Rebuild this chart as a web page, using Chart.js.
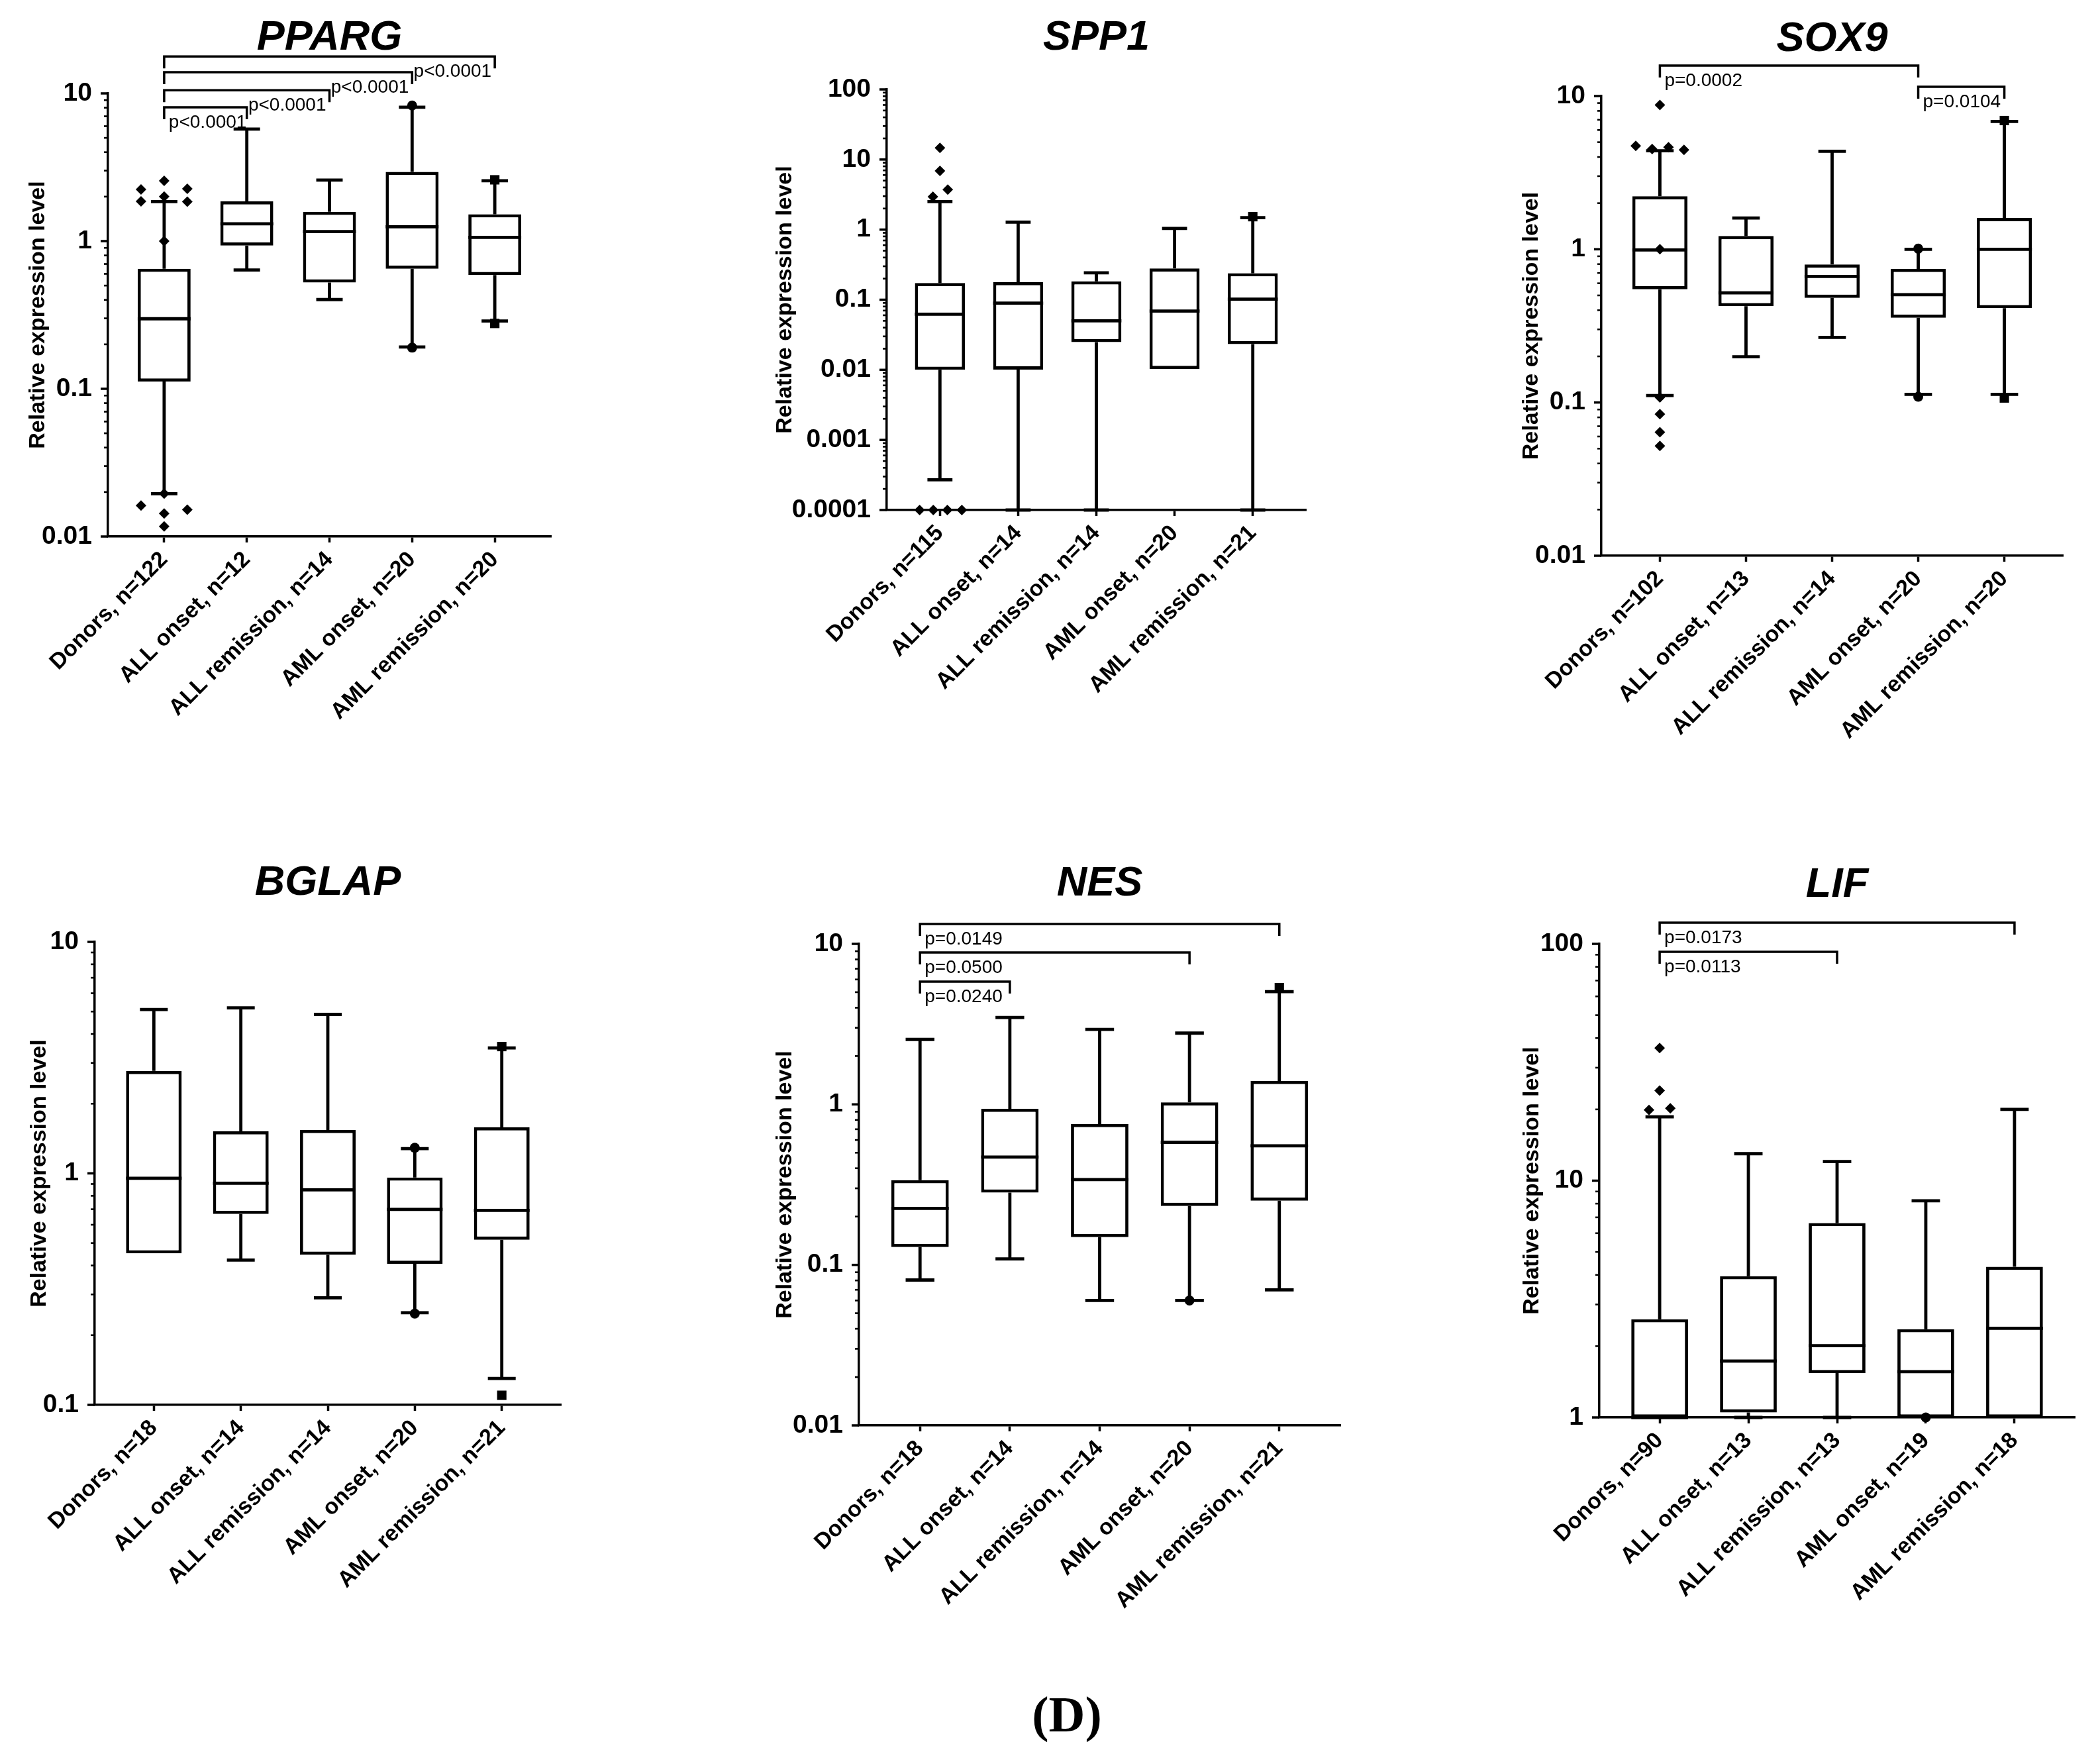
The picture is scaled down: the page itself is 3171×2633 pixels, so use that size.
<!DOCTYPE html>
<html>
<head>
<meta charset="utf-8">
<title>Relative expression level by group</title>
<script src="https://cdn.jsdelivr.net/npm/chart.js@4.4.1/dist/chart.umd.min.js"></script>
<style>
  html, body { margin: 0; padding: 0; background: #fff; }
  body { width: 3171px; height: 2633px; position: relative; overflow: hidden; }
  canvas { position: absolute; }
  #caption {
    position: absolute; left: 1411px; top: 2548px; width: 400px;
    text-align: center; font: bold 76px "Liberation Serif", "Times New Roman", serif;
    line-height: 80px; color: #000;
  }
</style>
</head>
<body>
<div id="caption">(D)</div>
<script>
const FONT = '"Liberation Sans", Arial, sans-serif';

// ---- PPARG ----
const ppargGroups = ["Donors, n=122", "ALL onset, n=12", "ALL remission, n=14", "AML onset, n=20", "AML remission, n=20"];
// [min, q1, median, q3, max]
const ppargBoxes = [
  [0.0195, 0.112, 0.298, 0.65, 1.85],
  [0.637, 0.933, 1.31, 1.86, 5.73],
  [0.402, 0.524, 1.16, 1.58, 2.59],
  [0.192, 0.65, 1.25, 2.94, 8.06],
  [0.288, 0.589, 1.06, 1.52, 2.56]
];
// [group, value]
const ppargOutliers = [
  [0, 2.24], [0, 1.86], [0, 2.56], [0, 2.0], [0, 2.26], [0, 1.85], [0, 1.0],
  [0, 0.0195], [0, 0.0162], [0, 0.0143], [0, 0.0117], [0, 0.0152],
  [3, 8.28], [3, 0.19], [4, 2.6], [4, 0.277]
];
const ppargJitter = [-0.28, -0.28, 0, 0, 0.28, 0.28, 0, 0, -0.28, 0, 0, 0.28, 0, 0, 0, 0];
const ppargTicks = ["0.01", "0.1", "1", "10"];
const ppargPairs = [[0, 1, "p<0.0001"], [0, 2, "p<0.0001"], [0, 3, "p<0.0001"], [0, 4, "p<0.0001"]];
const ppargPairLevels = [8.05, 10.5, 13.9, 17.8];

// ---- SPP1 ----
const spp1Groups = ["Donors, n=115", "ALL onset, n=14", "ALL remission, n=14", "AML onset, n=20", "AML remission, n=21"];
const spp1Boxes = [
  [0.00027, 0.0100, 0.0622, 0.173, 2.51],
  [0.0001, 0.0101, 0.0896, 0.178, 1.28],
  [0.0001, 0.0248, 0.0499, 0.183, 0.242],
  [0.0103, 0.0103, 0.0689, 0.28, 1.04],
  [0.0001, 0.0233, 0.102, 0.239, 1.48]
];
const spp1Outliers = [
  [0, 14.7], [0, 6.9], [0, 3.73], [0, 2.95],
  [0, 0.0001], [0, 0.0001], [0, 0.0001], [0, 0.0001],
  [4, 1.53]
];
const spp1Jitter = [0, 0, 0.1, -0.09, -0.26, -0.085, 0.095, 0.28, 0];
const spp1Ticks = ["0.0001", "0.001", "0.01", "0.1", "1", "10", "100"];
const spp1Pairs = [];
const spp1PairLevels = [];

// ---- SOX9 ----
const sox9Groups = ["Donors, n=102", "ALL onset, n=13", "ALL remission, n=14", "AML onset, n=20", "AML remission, n=20"];
const sox9Boxes = [
  [0.111, 0.548, 0.99, 2.22, 4.39],
  [0.199, 0.425, 0.519, 1.22, 1.6],
  [0.266, 0.482, 0.665, 0.796, 4.36],
  [0.113, 0.357, 0.505, 0.745, 1.0],
  [0.113, 0.413, 1.0, 1.6, 6.83]
];
const sox9Outliers = [
  [0, 8.75], [0, 4.73], [0, 4.51], [0, 4.63], [0, 4.45], [0, 1.0],
  [0, 0.108], [0, 0.084], [0, 0.064], [0, 0.052],
  [3, 1.01], [3, 0.109], [4, 6.92], [4, 0.107]
];
const sox9Jitter = [0, -0.28, -0.09, 0.1, 0.28, 0, 0, 0, 0, 0, 0, 0, 0, 0];
const sox9Ticks = ["0.01", "0.1", "1", "10"];
const sox9Pairs = [[0, 3, "p=0.0002"], [3, 4, "p=0.0104"]];
const sox9PairLevels = [15.8, 11.5];

// ---- BGLAP ----
const bglapGroups = ["Donors, n=18", "ALL onset, n=14", "ALL remission, n=14", "AML onset, n=20", "AML remission, n=21"];
const bglapBoxes = [
  [0.451, 0.451, 0.953, 2.77, 5.10],
  [0.422, 0.668, 0.907, 1.52, 5.19],
  [0.29, 0.445, 0.849, 1.54, 4.86],
  [0.25, 0.407, 0.699, 0.96, 1.28],
  [0.13, 0.517, 0.692, 1.58, 3.48]
];
const bglapOutliers = [[3, 1.29], [3, 0.248], [4, 3.53], [4, 0.110]];
const bglapJitter = [0, 0, 0, 0];
const bglapTicks = ["0.1", "1", "10"];
const bglapPairs = [];
const bglapPairLevels = [];

// ---- NES ----
const nesGroups = ["Donors, n=18", "ALL onset, n=14", "ALL remission, n=14", "AML onset, n=20", "AML remission, n=21"];
const nesBoxes = [
  [0.0805, 0.129, 0.225, 0.337, 2.54],
  [0.109, 0.282, 0.47, 0.938, 3.48],
  [0.06, 0.149, 0.34, 0.755, 2.93],
  [0.06, 0.233, 0.58, 1.03, 2.78],
  [0.0699, 0.251, 0.552, 1.40, 5.04]
];
const nesOutliers = [[3, 0.06], [4, 5.34]];
const nesJitter = [0, 0];
const nesTicks = ["0.01", "0.1", "1", "10"];
const nesPairs = [[0, 4, "p=0.0149"], [0, 3, "p=0.0500"], [0, 1, "p=0.0240"]];
const nesPairLevels = [13.3, 8.84, 5.82];

// ---- LIF ----
const lifGroups = ["Donors, n=90", "ALL onset, n=13", "ALL remission, n=13", "AML onset, n=19", "AML remission, n=18"];
const lifBoxes = [
  [1.0, 1.0, 1.0, 2.6, 18.6],
  [1.0, 1.05, 1.73, 3.95, 13.0],
  [1.0, 1.54, 2.01, 6.62, 12.05],
  [1.0, 1.0, 1.56, 2.36, 8.22],
  [1.0, 1.0, 2.38, 4.33, 20.0]
];
const lifOutliers = [[0, 36.3], [0, 24.0], [0, 19.9], [0, 20.2], [3, 1.0]];
const lifJitter = [0, 0, -0.12, 0.12, 0];
const lifTicks = ["1", "10", "100"];
const lifPairs = [[0, 4, "p=0.0173"], [0, 2, "p=0.0113"]];
const lifPairLevels = [122.9, 92.6];

// symbols per group (GraphPad style)
const SHAPES = ["rectRot", "triangle", "triangle", "circle", "rect"];
const RADII = [8, 8, 8, 7.5, 10];

// layout: plot rectangle [left, top, right, bottom] in page pixels
const panels = [
  { title: "PPARG", groups: ppargGroups, boxes: ppargBoxes, outliers: ppargOutliers, jitter: ppargJitter,
    ticks: ppargTicks, pairs: ppargPairs, levels: ppargPairLevels, pAlign: ["left", "right", "right", "right"],
    area: [163, 141, 832, 810], titleY: 75, axisW: 126 },
  { title: "SPP1", groups: spp1Groups, boxes: spp1Boxes, outliers: spp1Outliers, jitter: spp1Jitter,
    ticks: spp1Ticks, pairs: spp1Pairs, levels: spp1PairLevels, pAlign: [],
    area: [1339, 135, 1972, 770], titleY: 75, axisW: 174 },
  { title: "SOX9", groups: sox9Groups, boxes: sox9Boxes, outliers: sox9Outliers, jitter: sox9Jitter,
    ticks: sox9Ticks, pairs: sox9Pairs, levels: sox9PairLevels, pAlign: ["left", "left"],
    area: [2418, 145, 3115, 839], titleY: 77, axisW: 126 },
  { title: "BGLAP", groups: bglapGroups, boxes: bglapBoxes, outliers: bglapOutliers, jitter: bglapJitter,
    ticks: bglapTicks, pairs: bglapPairs, levels: bglapPairLevels, pAlign: [],
    area: [143, 1422, 847, 2121], titleY: 1351, axisW: 104 },
  { title: "NES", groups: nesGroups, boxes: nesBoxes, outliers: nesOutliers, jitter: nesJitter,
    ticks: nesTicks, pairs: nesPairs, levels: nesPairLevels, pAlign: ["left", "left", "left"],
    area: [1297, 1425, 2024, 2152], titleY: 1352, axisW: 132 },
  { title: "LIF", groups: lifGroups, boxes: lifBoxes, outliers: lifOutliers, jitter: lifJitter,
    ticks: lifTicks, pairs: lifPairs, levels: lifPairLevels, pAlign: ["left", "left"],
    area: [2415, 1425, 3133, 2140], titleY: 1354, axisW: 122 }
];

const BOX_HALF = 0.32;   // half box width, in category units
const CAP_HALF = 0.16;   // half whisker cap width
const LINE_W = 4.8;
const AXIS_W = 3.5;

function decadeLabel(v, labels) {
  return labels.find(l => Math.abs(Math.log10(v) - Math.log10(Number(l))) < 1e-6);
}

function buildChart(p) {
  const canvasLeft = p.area[0] - p.axisW - 20;
  const canvasTop = p.titleY - 90;
  const w = p.area[2] - canvasLeft + 40;
  const h = p.area[3] - canvasTop + 420;
  const canvas = document.createElement("canvas");
  canvas.width = w;
  canvas.height = h;
  canvas.style.left = canvasLeft + "px";
  canvas.style.top = canvasTop + "px";
  canvas.style.width = w + "px";
  canvas.style.height = h + "px";
  document.body.appendChild(canvas);

  const yVals = p.ticks.map(Number);

  // whiskers, medians, minor ticks, brackets and title
  const boxPlot = {
    id: "boxplot",
    beforeDatasetsDraw(chart) {
      const { ctx, scales: { x, y } } = chart;
      ctx.save();
      ctx.strokeStyle = "#000";
      ctx.lineWidth = LINE_W;
      p.boxes.forEach((b, i) => {
        const xc = x.getPixelForValue(i);
        const cap = x.getPixelForValue(i + CAP_HALF) - xc;
        const ends = [[b[3], b[4]], [b[1], b[0]]];
        ends.forEach(([from, to]) => {
          if (to === from) return;
          const y0 = y.getPixelForValue(from);
          const y1 = y.getPixelForValue(to);
          ctx.beginPath();
          ctx.moveTo(xc, y0);
          ctx.lineTo(xc, y1);
          ctx.moveTo(xc - cap, y1);
          ctx.lineTo(xc + cap, y1);
          ctx.stroke();
        });
      });
      ctx.restore();
    },
    afterDatasetsDraw(chart) {
      const { ctx, scales: { x, y } } = chart;
      ctx.save();
      ctx.strokeStyle = "#000";
      ctx.lineWidth = LINE_W;
      p.boxes.forEach((b, i) => {
        const ym = y.getPixelForValue(b[2]);
        ctx.beginPath();
        ctx.moveTo(x.getPixelForValue(i - BOX_HALF), ym);
        ctx.lineTo(x.getPixelForValue(i + BOX_HALF), ym);
        ctx.stroke();
      });
      ctx.restore();
    },
    afterDraw(chart) {
      const { ctx, chartArea, scales: { x, y } } = chart;
      ctx.save();
      ctx.strokeStyle = "#000";
      ctx.fillStyle = "#000";

      // y ticks: long at decades, short in between
      y.ticks.forEach(t => {
        const major = decadeLabel(t.value, p.ticks) !== undefined;
        const py = y.getPixelForValue(t.value);
        ctx.lineWidth = major ? AXIS_W : 2.6;
        ctx.beginPath();
        ctx.moveTo(chartArea.left, py);
        ctx.lineTo(chartArea.left - (major ? 11 : 6), py);
        ctx.stroke();
      });

      // significance brackets
      ctx.lineWidth = 3.5;
      ctx.font = "28px " + FONT;
      ctx.textBaseline = "alphabetic";
      p.pairs.forEach((pr, k) => {
        const x1 = x.getPixelForValue(pr[0]);
        const x2 = x.getPixelForValue(pr[1]);
        const yl = y.getPixelForValue(p.levels[k]);
        ctx.beginPath();
        ctx.moveTo(x1, yl + 18);
        ctx.lineTo(x1, yl);
        ctx.lineTo(x2, yl);
        ctx.lineTo(x2, yl + 18);
        ctx.stroke();
        if (p.pAlign[k] === "right") {
          ctx.textAlign = "right";
          ctx.fillText(pr[2], x2 - 5, yl + 31);
        } else {
          ctx.textAlign = "left";
          ctx.fillText(pr[2], x1 + 7, yl + 31);
        }
      });

      // gene title
      ctx.font = "italic bold 63px " + FONT;
      ctx.textAlign = "center";
      ctx.fillText(p.title, (chartArea.left + chartArea.right) / 2, p.titleY - canvasTop);
      ctx.restore();
    }
  };

  new Chart(canvas, {
    type: "bar",
    data: {
      datasets: [
        {
          type: "scatter",
          data: p.outliers.map((o, k) => ({ x: o[0] + p.jitter[k], y: o[1] })),
          pointStyle: p.outliers.map(o => SHAPES[o[0]]),
          pointRadius: p.outliers.map(o => RADII[o[0]]),
          backgroundColor: "#000",
          borderColor: "#000",
          borderWidth: 0,
          clip: false
        },
        {
          type: "bar",
          data: p.boxes.map((b, i) => ({ x: i, y: [b[1], b[3]] })),
          backgroundColor: "#fff",
          borderColor: "#000",
          borderWidth: LINE_W,
          borderSkipped: false,
          barPercentage: BOX_HALF * 2,
          categoryPercentage: 1,
          grouped: false,
          clip: false
        }
      ]
    },
    options: {
      responsive: false,
      animation: false,
      events: [],
      layout: { padding: { left: 20, top: p.area[1] - canvasTop, right: 40, bottom: 40 } },
      plugins: { legend: { display: false }, tooltip: { enabled: false }, title: { display: false } },
      scales: {
        x: {
          type: "linear",
          min: -0.68,
          max: 4.68,
          offset: false,
          afterBuildTicks: s => { s.ticks = p.groups.map((g, i) => ({ value: i })); },
          afterFit: s => { s.height = 380; s.paddingLeft = 0; s.paddingRight = 0; },
          grid: { display: true, drawOnChartArea: false, drawTicks: true, tickLength: 9, tickWidth: AXIS_W, tickColor: "#000", offset: false },
          border: { display: true, color: "#000", width: AXIS_W },
          ticks: {
            autoSkip: false, minRotation: 45, maxRotation: 45, padding: 6, color: "#000",
            font: { family: FONT, size: 34, weight: "bold" },
            callback: v => p.groups[Math.round(v)]
          }
        },
        y: {
          type: "logarithmic",
          min: yVals[0],
          max: yVals[yVals.length - 1],
          beginAtZero: false,
          afterBuildTicks: s => {
            const out = [];
            yVals.forEach((d, i) => {
              out.push({ value: d });
              if (i < yVals.length - 1) for (let k = 2; k <= 9; k++) out.push({ value: k * d });
            });
            s.ticks = out;
          },
          afterFit: s => { s.width = p.axisW; s.paddingTop = 0; s.paddingBottom = 0; },
          grid: { display: false },
          border: { display: true, color: "#000", width: AXIS_W },
          ticks: {
            autoSkip: false, padding: 16, color: "#000",
            font: { family: FONT, size: 39, weight: "bold" },
            callback: v => decadeLabel(v, p.ticks) || ""
          },
          title: {
            display: true, text: "Relative expression level", color: "#000", padding: 0,
            font: { family: FONT, size: 34, weight: "bold" }
          }
        }
      }
    },
    plugins: [boxPlot]
  });
}

panels.forEach(buildChart);
</script>
</body>
</html>
